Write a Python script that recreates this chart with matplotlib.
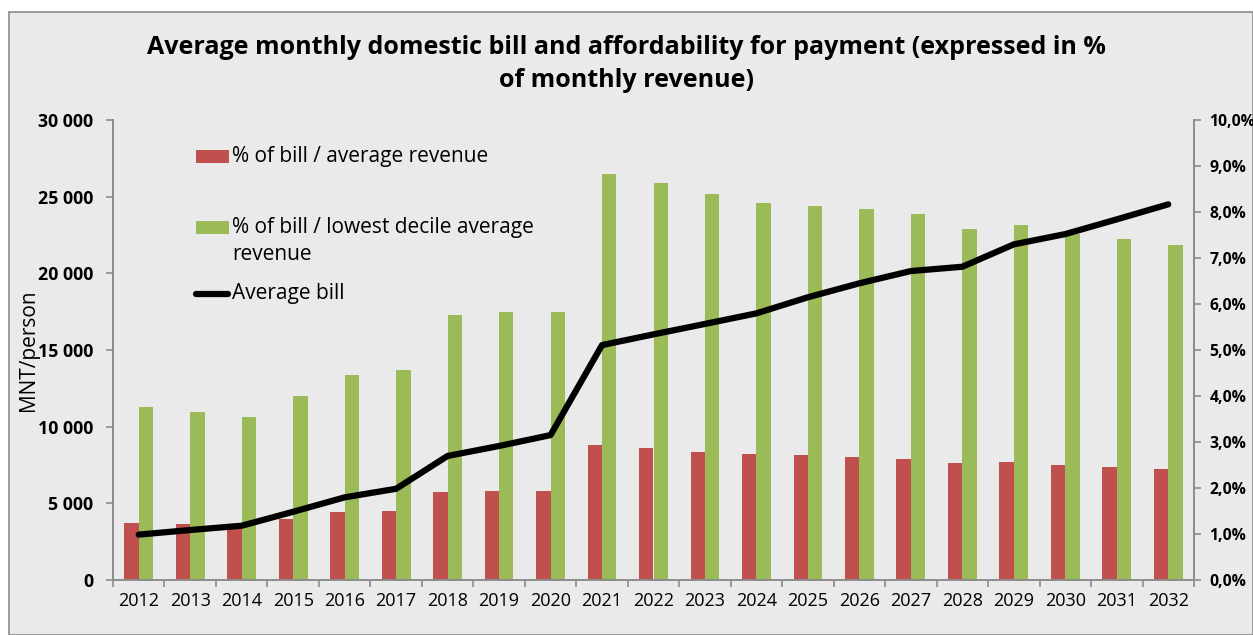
import matplotlib
matplotlib.use("Agg")
import matplotlib.pyplot as plt
from matplotlib.patches import Rectangle
from matplotlib.lines import Line2D
import numpy as np

years = [str(y) for y in range(2012, 2033)]
pct_avg = [1.25, 1.21, 1.17, 1.33, 1.48, 1.51, 1.91, 1.93, 1.93, 2.93, 2.87,
           2.79, 2.73, 2.71, 2.68, 2.64, 2.54, 2.57, 2.49, 2.46, 2.41]
pct_low = [3.76, 3.65, 3.55, 4.01, 4.46, 4.57, 5.76, 5.83, 5.83, 8.83, 8.62,
           8.40, 8.20, 8.14, 8.06, 7.96, 7.63, 7.72, 7.52, 7.41, 7.28]
avg_bill = [2960, 3260, 3540, 4450, 5390, 5950, 8090, 8740, 9450, 15320, 16020,
            16700, 17390, 18440, 19350, 20150, 20430, 21890, 22560, 23520, 24500]

title = "Average monthly domestic bill and affordability for payment (expressed in %\nof monthly revenue)"
lab_avg = "% of bill / average revenue"
lab_low = "% of bill / lowest decile average\nrevenue"
lab_bill = "Average bill"

plt.rcParams['font.family'] = ['Open Sans', 'DejaVu Sans']

W, H = 1253, 635
fig = plt.figure(figsize=(W/100, H/100), dpi=100)
fig.patch.set_facecolor('white')

def fx(px):
    return px / W

def fy(py):
    return 1 - py / H

bg = Rectangle((fx(9), 0), 1 - fx(9), fy(12), transform=fig.transFigure,
               facecolor='#EAEAEA', edgecolor='#8C8C8C', linewidth=1.2, zorder=-10)
fig.patches.append(bg)

ax = fig.add_axes([fx(113), fy(580), (1194 - 113)/W, (580 - 120)/H])
ax.set_facecolor('none')
x = np.arange(len(years))
w = 0.28
red = '#C0504D'
green = '#9BBB59'
ax.bar(x - w/2, np.array(pct_avg)/100, width=w, color=red, edgecolor='none')
ax.bar(x + w/2, np.array(pct_low)/100, width=w, color=green, edgecolor='none')
ax.set_ylim(0, 0.10)
ax.set_xlim(-0.5, len(years) - 0.5)

ax2 = ax.twinx()
ax2.plot(x, avg_bill, color='black', linewidth=4.5, solid_capstyle='round',
         solid_joinstyle='round')
ax2.set_ylim(0, 30000)

# bars' percentage scale on the right, bill scale on the left
ax.yaxis.tick_right()
ax.yaxis.set_label_position('right')
ax2.yaxis.tick_left()
ax2.yaxis.set_label_position('left')

ax.set_yticks(np.arange(0, 0.1001, 0.01))
ax.set_yticklabels([f"{v:.1f}%".replace('.', ',') for v in np.arange(0, 10.01, 1)],
                   fontsize=11.3, fontweight='bold')
ax2.set_yticks(np.arange(0, 30001, 5000))
ax2.set_yticklabels([f"{v:,}".replace(',', ' ') for v in range(0, 30001, 5000)],
                    fontsize=12.8, fontweight='bold')
ax2.set_ylabel("MNT/person", fontsize=15)
ax2.yaxis.set_label_coords(-(113 - 39)/(1194 - 113), 0.5)

for a in (ax, ax2):
    for s in a.spines.values():
        s.set_color('#8C8C8C')
        s.set_linewidth(1.2)
    a.spines['top'].set_visible(False)
ax.tick_params(axis='y', colors='#8C8C8C', labelcolor='black', length=5, width=1.2, pad=6)
ax2.tick_params(axis='y', colors='#8C8C8C', labelcolor='black', length=5, width=1.2, pad=9)

ax.set_xticks(x)
ax.set_xticklabels(years, fontsize=13)
ax.set_xticks(np.arange(-0.5, len(years), 1), minor=True)
ax.tick_params(axis='x', which='major', length=0, pad=9)
ax.tick_params(axis='x', which='minor', length=5, width=1.2, color='#8C8C8C')

fig.text(0.5, fy(64), title, ha='center', va='center', fontsize=18,
         fontweight='bold', linespacing=1.4)

# legend, laid out like the reference
leg_fs = 15
fig.patches.append(Rectangle((fx(196), fy(163)), fx(33), 13/H, transform=fig.transFigure,
                             facecolor=red, edgecolor='none'))
fig.text(fx(232), fy(156), lab_avg, ha='left', va='center', fontsize=leg_fs)
fig.patches.append(Rectangle((fx(196), fy(234)), fx(33), 13/H, transform=fig.transFigure,
                             facecolor=green, edgecolor='none'))
fig.text(fx(232), fy(227), lab_low.split('\n')[0], ha='left', va='center', fontsize=leg_fs)
fig.text(fx(232), fy(255), lab_low.split('\n')[1], ha='left', va='center', fontsize=leg_fs)
fig.lines.append(Line2D([fx(196), fx(228)], [fy(294), fy(294)], transform=fig.transFigure,
                        color='black', linewidth=4.5, solid_capstyle='round'))
fig.text(fx(232), fy(294), lab_bill, ha='left', va='center', fontsize=leg_fs)

fig.savefig("out.png", dpi=100, facecolor=fig.get_facecolor())
